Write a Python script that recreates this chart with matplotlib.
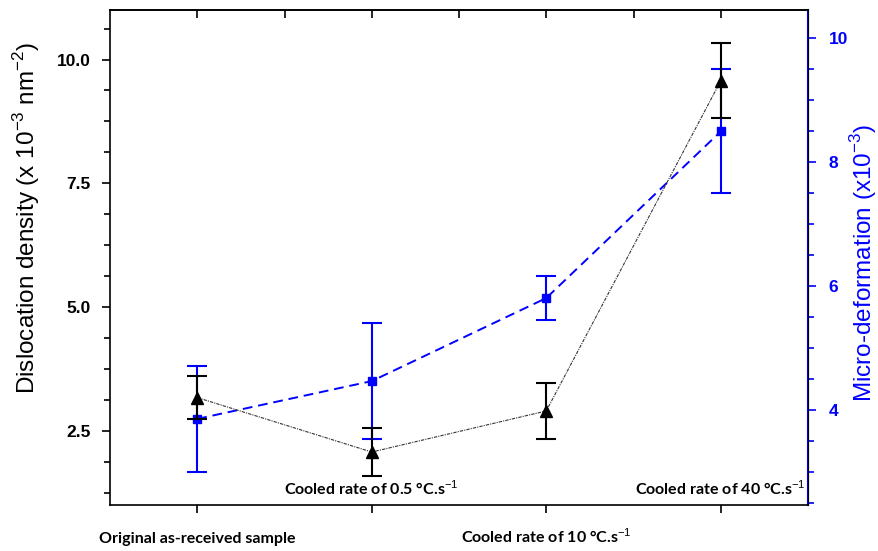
import matplotlib.pyplot as plt
from matplotlib.ticker import MultipleLocator

# data
samples = ['Original as-received sample', 'Cooled rate of 0.5 °C.s$^{-1}$',
           'Cooled rate of 10 °C.s$^{-1}$', 'Cooled rate of 40 °C.s$^{-1}$']
dislocation = [3.17, 2.07, 2.90, 9.57]
dislocation_err = [0.44, 0.48, 0.56, 0.76]
microdef = [3.86, 4.47, 5.81, 8.50]
microdef_err = [0.86, 0.94, 0.36, 1.0]

plt.rcParams['font.family'] = 'Liberation Sans'
plt.rcParams['mathtext.fontset'] = 'custom'
plt.rcParams['mathtext.rm'] = 'Liberation Sans'

fig = plt.figure(figsize=(8.79, 5.51), dpi=100)
ax = fig.add_axes([110 / 879, 46 / 551, 698 / 879, 495 / 551])
ax2 = ax.twinx()

x = list(range(len(samples)))

ax2.errorbar(x, microdef, yerr=microdef_err, color='#0000ff', ls=(0, (5, 3)), lw=1.4,
             marker='s', ms=6, capsize=7, capthick=1.5, elinewidth=1.5)
ax.plot(x, dislocation, color='#333333', ls=(0, (3, 1, 1, 1)), lw=0.8)
ax.errorbar(x, dislocation, yerr=dislocation_err, color='black', ls='none',
            marker='^', ms=8, capsize=7, capthick=1.5, elinewidth=1.5)
ax.set_zorder(ax2.get_zorder() + 1)
ax.patch.set_visible(False)

ax.set_xlim(-0.5, 3.5)
ax.set_ylim(1.0, 11.0)
ax2.set_ylim(2.47, 10.46)

# left axis
ax.yaxis.set_major_locator(MultipleLocator(2.5))
ax.yaxis.set_minor_locator(MultipleLocator(0.625))
ax.yaxis.set_major_formatter(plt.FormatStrFormatter('%.1f'))
ax.tick_params(axis='y', which='major', direction='out', length=6, width=1.2,
               labelsize=12.5, pad=8)
ax.tick_params(axis='y', which='minor', direction='out', length=4, width=1.2)
for lab in ax.get_yticklabels():
    lab.set_fontweight('bold')

# bottom / top axis
ax.set_xticks(x)
ax.set_xticklabels([])
ax.tick_params(axis='x', which='major', direction='out', length=6, width=1.2)
ax.tick_params(axis='x', which='minor', bottom=False)
top = ax.secondary_xaxis('top')
top.set_xticks([-0.5 + 0.5 * i for i in range(1, 8)])
top.set_xticklabels([])
top.tick_params(direction='in', length=6, width=1.2)
top.spines['top'].set_linewidth(1.2)

# right axis
ax2.yaxis.set_major_locator(MultipleLocator(2))
ax2.yaxis.set_minor_locator(MultipleLocator(0.5))
ax2.tick_params(axis='y', which='major', direction='out', length=6, width=1.2,
                labelsize=12.5, colors='#0000ff', pad=9)
ax2.tick_params(axis='y', which='minor', direction='out', length=4, width=1.2,
                colors='#0000ff')
for lab in ax2.get_yticklabels():
    lab.set_fontweight('bold')

for sp in ['left', 'bottom', 'top']:
    ax.spines[sp].set_linewidth(1.2)
ax2.spines['right'].set_color('#0000ff')
ax2.spines['right'].set_linewidth(1.5)
for sp in ['left', 'bottom', 'top']:
    ax2.spines[sp].set_visible(False)

ax.set_ylabel('Dislocation density (x 10$^{-3}$ nm$^{-2}$)', fontsize=17.5)
ax.yaxis.set_label_coords(-0.098, 0.58)
ax2.set_ylabel('Micro-deformation (x10$^{-3}$)', fontsize=17.5, color='#0000ff')
ax2.yaxis.set_label_coords(1.058, 0.49)

# category labels alternate below the axis and inside the plot
for i, name in enumerate(samples):
    if i % 2 == 0:
        ax.text(i, -0.077, name, transform=ax.get_xaxis_transform(), ha='center',
                va='baseline', fontsize=11.5, fontweight='bold', family='Lato')
    else:
        ax.text(i, 0.02, name, transform=ax.get_xaxis_transform(), ha='center',
                va='baseline', fontsize=11.5, fontweight='bold', family='Lato')

fig.savefig('out.png', dpi=100)
